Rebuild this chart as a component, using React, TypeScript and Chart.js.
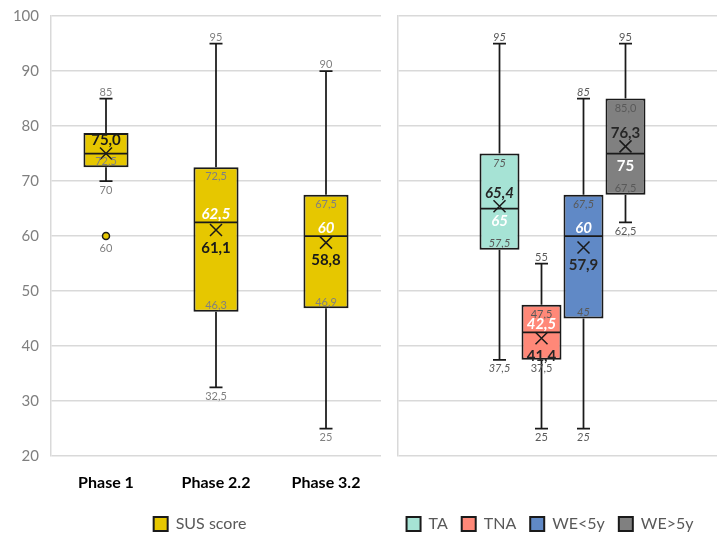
import React, { useEffect, useRef } from 'react';
import { Chart, registerables } from 'chart.js';

Chart.register(...registerables);

const FONT = 'Lato, "Open Sans", sans-serif';

// ---------- Left panel data (SUS score by phase) ----------
const phaseLabels = ['Phase 1', 'Phase 2.2', 'Phase 3.2'];
const susSeriesLabel = 'SUS score';
const susMin = [70, 32.5, 25];
const susQ1 = [72.5, 46.25, 46.875];
const susMedian = [75, 62.5, 60];
const susQ3 = [78.75, 72.5, 67.5];
const susMax = [85, 95, 90];
const susMean = [75.0, 61.1, 58.8];
const susOutliers = [[60], [], []];
const susMinText = ['70', '32,5', '25'];
const susQ1Text = ['72,5', '46,3', '46,9'];
const susMedianText = ['', '62,5', '60'];
const susQ3Text = ['', '72,5', '67,5'];
const susMaxText = ['85', '95', '90'];
const susMeanText = ['75,0', '61,1', '58,8'];
const susOutlierText = [['60'], [], []];

// ---------- Right panel data (groups) ----------
const groupLabels = ['TA', 'TNA', 'WE<5y', 'WE>5y'];
const grpMin = [37.5, 25, 25, 62.5];
const grpQ1 = [57.5, 37.5, 45, 67.5];
const grpMedian = [65, 42.5, 60, 75];
const grpQ3 = [75, 47.5, 67.5, 85];
const grpMax = [95, 55, 85, 95];
const grpMean = [65.4, 41.4, 57.9, 76.3];
const grpMinText = ['37,5', '25', '25', '62,5'];
const grpQ1Text = ['57,5', '37,5', '45', '67,5'];
const grpMedianText = ['65', '42,5', '60', '75'];
const grpQ3Text = ['75', '47,5', '67,5', '85,0'];
const grpMaxText = ['95', '55', '85', '95'];
const grpMeanText = ['65,4', '41,4', '57,9', '76,3'];

const yTicksMin = 20;
const yTicksMax = 100;
const yTickStep = 10;

// ---------- styles ----------
const SUS_COLOR = '#E6C700';
const GROUP_COLORS = ['#A6E3D5', '#FF8878', '#6089C6', '#808080'];
const GROUP_ITALIC = [true, false, true, false];
const GROUP_MEDIAN_ITALIC = [true, true, true, false];
const GROUP_MEAN_ITALIC = [true, false, false, false];
const GROUP_Q1_OUTSIDE = [false, true, false, false];
const LINE = '#1a1a1a';
const GRID = '#d9d9d9';

type Box = {
  min: number; q1: number; med: number; q3: number; max: number; mean: number;
  out: number[];
  t: { min: string; q1: string; med: string; q3: string; max: string; mean: string; out: string[] };
  st: { italic: boolean; medItalic: boolean; meanItalic: boolean; q1Outside: boolean; small: string; meanColor: string };
};

function fnt(size: number, bold = false, italic = false) {
  return `${italic ? 'italic ' : ''}${bold ? 'bold ' : ''}${size}px ${FONT}`;
}

function txt(ctx: CanvasRenderingContext2D, s: string, x: number, y: number, font: string, color: string) {
  if (!s) return;
  ctx.font = font;
  ctx.fillStyle = color;
  ctx.textAlign = 'center';
  ctx.textBaseline = 'middle';
  ctx.fillText(s, x, y);
}

function forEachBox(chart: any, cb: (b: Box, x: number, w: number, y: (v: number) => number) => void) {
  const ys = chart.scales.y;
  chart.data.datasets.forEach((ds: any, di: number) => {
    const meta = chart.getDatasetMeta(di);
    if (!meta || meta.hidden) return;
    meta.data.forEach((el: any, i: number) => {
      const b: Box = ds.boxes[i];
      if (!b) return;
      const p = el.getProps(['x', 'width'], true);
      cb(b, p.x, p.width, (v: number) => ys.getPixelForValue(v));
    });
  });
}

const boxDecor = {
  id: 'boxDecor',
  beforeDatasetsDraw(chart: any) {
    const ctx = chart.ctx;
    ctx.save();
    ctx.strokeStyle = LINE;
    ctx.lineWidth = 1.75;
    forEachBox(chart, (b, x, _w, y) => {
      const cap = 6.5;
      ctx.beginPath();
      ctx.moveTo(x, y(b.q3)); ctx.lineTo(x, y(b.max));
      ctx.moveTo(x - cap, y(b.max)); ctx.lineTo(x + cap, y(b.max));
      ctx.moveTo(x, y(b.q1)); ctx.lineTo(x, y(b.min));
      ctx.moveTo(x - cap, y(b.min)); ctx.lineTo(x + cap, y(b.min));
      ctx.stroke();
    });
    ctx.restore();
  },
  afterDatasetsDraw(chart: any, _a: any, opts: any) {
    const ctx = chart.ctx;
    ctx.save();
    forEachBox(chart, (b, x, w, y) => {
      // median line
      ctx.strokeStyle = LINE;
      ctx.lineWidth = 1.75;
      ctx.beginPath();
      ctx.moveTo(x - w / 2 + 1, y(b.med)); ctx.lineTo(x + w / 2 - 1, y(b.med));
      ctx.stroke();
      // mean cross
      const ym = y(b.mean);
      const s = 6;
      ctx.lineWidth = 1.5;
      ctx.beginPath();
      ctx.moveTo(x - s, ym - s); ctx.lineTo(x + s, ym + s);
      ctx.moveTo(x + s, ym - s); ctx.lineTo(x - s, ym + s);
      ctx.stroke();
      // outliers
      b.out.forEach((v, k) => {
        ctx.beginPath();
        ctx.arc(x, y(v), 3.5, 0, Math.PI * 2);
        ctx.fillStyle = opts.outlierColor || SUS_COLOR;
        ctx.fill();
        ctx.stroke();
        txt(ctx, b.t.out[k], x, y(v) + 12, fnt(11, false, b.st.italic), b.st.small);
      });
      const it = b.st.italic;
      const small = fnt(11, false, it);
      // whisker labels
      txt(ctx, b.t.max, x, y(b.max) - 6.5, small, b.st.small);
      txt(ctx, b.t.min, x, y(b.min) + 9, small, b.st.small);
      // quartile labels
      txt(ctx, b.t.q3, x, y(b.q3) + 9.5, small, b.st.small);
      txt(ctx, b.t.q1, x, b.st.q1Outside ? y(b.q1) + 9 : y(b.q1) - 6, small, b.st.small);
      // median & mean labels
      const meanAbove = b.mean >= b.med;
      txt(ctx, b.t.med, x, meanAbove ? y(b.med) + 12.5 : y(b.med) - 8, fnt(15, true, b.st.medItalic), '#ffffff');
      txt(ctx, b.t.mean, x, meanAbove ? ym - 13.5 : ym + 18, fnt(15, true, b.st.meanItalic), b.st.meanColor);
    });
    ctx.restore();
  },
};

const legendNudge = {
  id: 'legendNudge',
  afterLayout(chart: any, _a: any, opts: any) {
    const lg = chart.legend;
    if (!lg) return;
    const dx = opts.dx || 0;
    const dy = opts.dy || 0;
    lg.left += dx; lg.right += dx; lg.top += dy; lg.bottom += dy;
  },
};

const legendOpts = {
  position: 'bottom' as const,
  labels: {
    boxWidth: 14,
    boxHeight: 14,
    padding: 14,
    color: '#595959',
    font: { family: FONT, size: 16 },
  },
};

function yScale(showTicks: boolean, width: number) {
  return {
    min: yTicksMin,
    max: yTicksMax,
    ticks: {
      display: showTicks,
      stepSize: yTickStep,
      color: '#7f7f7f',
      font: { family: FONT, size: 15 },
      padding: 3,
    },
    grid: { color: GRID, lineWidth: 1.5, drawTicks: true, tickLength: 9, tickColor: 'rgba(0,0,0,0)' },
    border: { color: GRID, width: 1.5 },
    afterFit: (s: any) => { s.width = width; },
  };
}

export default function App() {
  const leftRef = useRef<HTMLCanvasElement>(null);
  const rightRef = useRef<HTMLCanvasElement>(null);

  useEffect(() => {
    const leftBoxes: Box[] = phaseLabels.map((_, i) => ({
      min: susMin[i], q1: susQ1[i], med: susMedian[i], q3: susQ3[i], max: susMax[i], mean: susMean[i],
      out: susOutliers[i],
      t: { min: susMinText[i], q1: susQ1Text[i], med: susMedianText[i], q3: susQ3Text[i], max: susMaxText[i], mean: susMeanText[i], out: susOutlierText[i] },
      st: { italic: false, medItalic: true, meanItalic: false, q1Outside: false, small: '#808080', meanColor: '#1a1a1a' },
    }));

    const left = new Chart(leftRef.current!, {
      type: 'bar',
      data: {
        labels: phaseLabels,
        datasets: [{
          label: susSeriesLabel,
          data: phaseLabels.map((_, i) => [susQ1[i], susQ3[i]]) as any,
          backgroundColor: SUS_COLOR,
          borderColor: LINE,
          borderWidth: 2,
          borderSkipped: false,
          categoryPercentage: 0.41,
          barPercentage: 1,
          boxes: leftBoxes,
        } as any],
      },
      options: {
        responsive: false,
        animation: false,
        devicePixelRatio: 1,
        layout: { padding: { top: 16, left: 0, right: 0, bottom: 0 } },
        plugins: {
          legend: legendOpts,
          tooltip: { enabled: false },
          boxDecor: { outlierColor: SUS_COLOR },
          legendNudge: { dx: 0, dy: 9 },
        } as any,
        scales: {
          x: {
            grid: { display: false, drawTicks: false },
            border: { display: false },
            ticks: { color: '#000000', font: { family: FONT, size: 16, weight: 'bold' }, padding: 17 },
            afterFit: (s: any) => { s.height = 37; },
          },
          y: yScale(true, 51) as any,
          y2: {
            position: 'right',
            display: true,
            grid: { display: false },
            border: { display: false },
            ticks: { display: false },
            afterFit: (s: any) => { s.width = 19; },
          } as any,
        },
      },
      plugins: [boxDecor, legendNudge],
    });

    const right = new Chart(rightRef.current!, {
      type: 'bar',
      data: {
        labels: [''],
        datasets: groupLabels.map((g, i) => ({
          label: g,
          data: [[grpQ1[i], grpQ3[i]]] as any,
          backgroundColor: GROUP_COLORS[i],
          borderColor: LINE,
          borderWidth: 2,
          borderSkipped: false,
          categoryPercentage: 0.5106,
          barPercentage: 0.952,
          boxes: [{
            min: grpMin[i], q1: grpQ1[i], med: grpMedian[i], q3: grpQ3[i], max: grpMax[i], mean: grpMean[i],
            out: [],
            t: { min: grpMinText[i], q1: grpQ1Text[i], med: grpMedianText[i], q3: grpQ3Text[i], max: grpMaxText[i], mean: grpMeanText[i], out: [] },
            st: { italic: GROUP_ITALIC[i], medItalic: GROUP_MEDIAN_ITALIC[i], meanItalic: GROUP_MEAN_ITALIC[i], q1Outside: GROUP_Q1_OUTSIDE[i], small: '#595959', meanColor: '#262626' },
          }],
        } as any)),
      },
      options: {
        responsive: false,
        animation: false,
        devicePixelRatio: 1,
        layout: { padding: { top: 16, left: 0, right: 0, bottom: 0 } },
        plugins: {
          legend: legendOpts,
          tooltip: { enabled: false },
          legendNudge: { dx: -2, dy: 9 },
        } as any,
        scales: {
          x: {
            grid: { display: false, drawTicks: false },
            border: { display: false },
            ticks: { display: false },
            afterFit: (s: any) => { s.height = 37; },
          },
          y: yScale(false, 21) as any,
        },
      },
      plugins: [boxDecor, legendNudge],
    });

    return () => { left.destroy(); right.destroy(); };
  }, []);

  return (
    <div style={{ position: 'fixed', left: 0, top: 0, width: 717, height: 533, overflow: 'hidden', background: '#ffffff' }}>
      <canvas ref={leftRef} width={400} height={533} style={{ position: 'absolute', left: 0, top: 0, width: 400, height: 533 }} />
      <canvas ref={rightRef} width={350} height={533} style={{ position: 'absolute', left: 377, top: 0, width: 350, height: 533 }} />
    </div>
  );
}
